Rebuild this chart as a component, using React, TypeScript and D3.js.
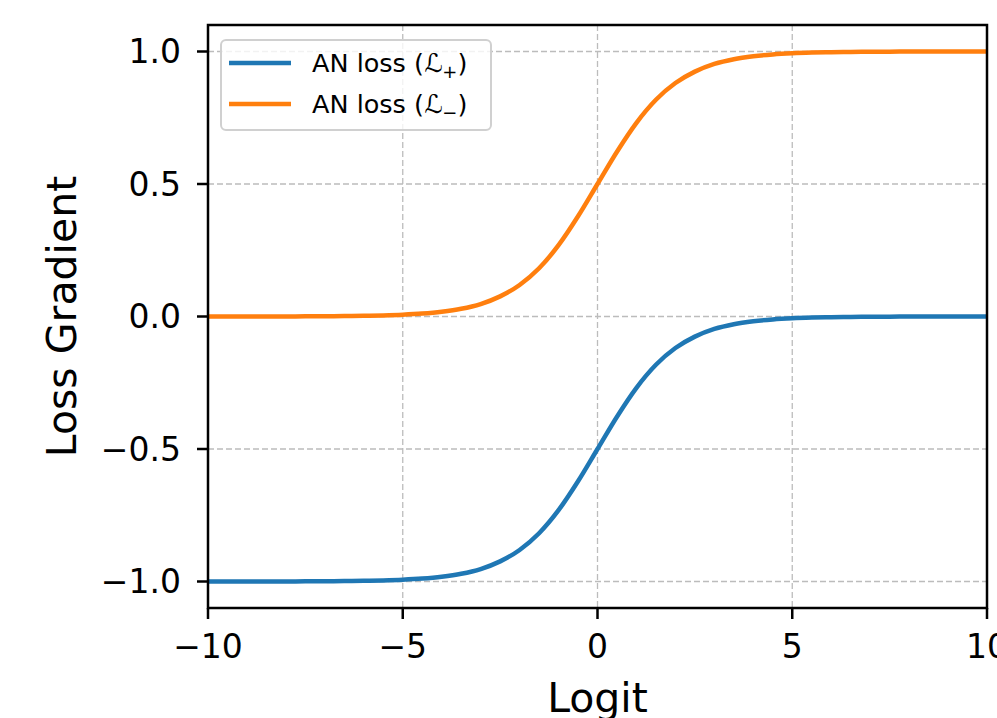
import React from "react";
import * as d3 from "d3";

// logit values (x) and gradients
const logits = [
  -10, -9.5, -9, -8.5, -8, -7.5, -7, -6.5, -6, -5.5, -5, -4.5, -4, -3.5, -3, -2.5, -2, -1.5, -1, -0.5,
  0, 0.5, 1, 1.5, 2, 2.5, 3, 3.5, 4, 4.5, 5, 5.5, 6, 6.5, 7, 7.5, 8, 8.5, 9, 9.5, 10,
];
const lossMinus = [
  0.0, 0.0001, 0.0001, 0.0002, 0.0003, 0.0006, 0.0009, 0.0015, 0.0025, 0.0041, 0.0067, 0.011, 0.018,
  0.029, 0.047, 0.076, 0.119, 0.182, 0.269, 0.378, 0.5, 0.622, 0.731, 0.818, 0.881, 0.924, 0.953,
  0.971, 0.982, 0.989, 0.9933, 0.9959, 0.9975, 0.9985, 0.9991, 0.9994, 0.9997, 0.9998, 0.9999,
  0.9999, 1.0,
];
const lossPlus = [
  -1.0, -0.9999, -0.9999, -0.9998, -0.9997, -0.9994, -0.9991, -0.9985, -0.9975, -0.9959, -0.9933,
  -0.989, -0.982, -0.971, -0.953, -0.924, -0.881, -0.818, -0.731, -0.622, -0.5, -0.378, -0.269,
  -0.182, -0.119, -0.076, -0.047, -0.029, -0.018, -0.011, -0.0067, -0.0041, -0.0025, -0.0015,
  -0.0009, -0.0006, -0.0003, -0.0002, -0.0001, -0.0001, 0.0,
];
const xTicks = [-10, -5, 0, 5, 10];
const yTicks = [-1.0, -0.5, 0.0, 0.5, 1.0];
const seriesNames = ["+", "−"];
const colors = ["#1f77b4", "#ff7f0e"];

const W = 997;
const H = 718;
const margin = { top: 25, right: 10, bottom: 110, left: 208 };
const font = "DejaVu Sans, sans-serif";

const fmt = (v: number) => {
  const s = v.toFixed(1);
  return v < 0 ? "\u2212" + s.slice(1) : s;
};
const fmtX = (v: number) => (v < 0 ? "\u2212" + Math.abs(v) : String(v));

export default function App() {
  const x = d3.scaleLinear().domain([-10, 10]).range([margin.left, W - margin.right]);
  const y = d3.scaleLinear().domain([-1.1, 1.1]).range([H - margin.bottom, margin.top]);

  const line = d3
    .line<[number, number]>()
    .x((d) => x(d[0]))
    .y((d) => y(d[1]))
    .curve(d3.curveMonotoneX);

  const series = [lossPlus, lossMinus].map((vals) =>
    line(logits.map((l, i) => [l, vals[i]] as [number, number]))
  );

  const x0 = margin.left;
  const x1 = W - margin.right;
  const y0 = margin.top;
  const y1 = H - margin.bottom;

  return (
    <svg
      width={W}
      height={H}
      style={{ position: "absolute", left: 0, top: 0, background: "#fff" }}
      fontFamily={font}
    >
      <defs>
        <clipPath id="plot">
          <rect x={x0} y={y0} width={x1 - x0} height={y1 - y0} />
        </clipPath>
      </defs>

      {/* grid */}
      <g stroke="#bcbcbc" strokeWidth={1.3} strokeDasharray="6,3">
        {xTicks.map((t) => (
          <line key={"gx" + t} x1={x(t)} x2={x(t)} y1={y0} y2={y1} />
        ))}
        {yTicks.map((t) => (
          <line key={"gy" + t} x1={x0} x2={x1} y1={y(t)} y2={y(t)} />
        ))}
      </g>

      {/* curves */}
      <g clipPath="url(#plot)" fill="none" strokeWidth={4.5} strokeLinecap="square">
        {series.map((d, i) => (
          <path key={i} d={d || ""} stroke={colors[i]} />
        ))}
      </g>

      {/* frame */}
      <rect x={x0} y={y0} width={x1 - x0} height={y1 - y0} fill="none" stroke="#000" strokeWidth={2.5} />

      {/* x axis */}
      <g>
        {xTicks.map((t) => (
          <g key={"xt" + t}>
            <line x1={x(t)} x2={x(t)} y1={y1} y2={y1 + 11} stroke="#000" strokeWidth={2.5} />
            <text x={x(t)} y={y1 + 50} textAnchor="middle" fontSize={33}>
              {fmtX(t)}
            </text>
          </g>
        ))}
        <text x={(x0 + x1) / 2} y={712} textAnchor="middle" fontSize={41}>
          Logit
        </text>
      </g>

      {/* y axis */}
      <g>
        {yTicks.map((t) => (
          <g key={"yt" + t}>
            <line x1={x0 - 11} x2={x0} y1={y(t)} y2={y(t)} stroke="#000" strokeWidth={2.5} />
            <text x={x0 - 27} y={y(t)} dy="0.36em" textAnchor="end" fontSize={33}>
              {fmt(t)}
            </text>
          </g>
        ))}
        <text transform={`translate(76,${(y0 + y1) / 2}) rotate(-90)`} textAnchor="middle" fontSize={41}>
          Loss Gradient
        </text>
      </g>

      {/* legend */}
      <g>
        <rect
          x={221}
          y={40}
          width={270}
          height={90}
          rx={5}
          fill="#fff"
          fillOpacity={0.8}
          stroke="#d0d0d0"
          strokeWidth={2}
        />
        {seriesNames.map((s, i) => (
          <g key={s} transform={`translate(0,${63 + i * 41})`}>
            <line x1={229} x2={291} y1={0} y2={0} stroke={colors[i]} strokeWidth={4.5} />
            <text x={312} y={0} dy="0.36em" fontSize={25.5}>
              AN loss (ℒ
              <tspan fontSize={18} dy={6}>
                {s}
              </tspan>
              <tspan dy={-6}>)</tspan>
            </text>
          </g>
        ))}
      </g>
    </svg>
  );
}
